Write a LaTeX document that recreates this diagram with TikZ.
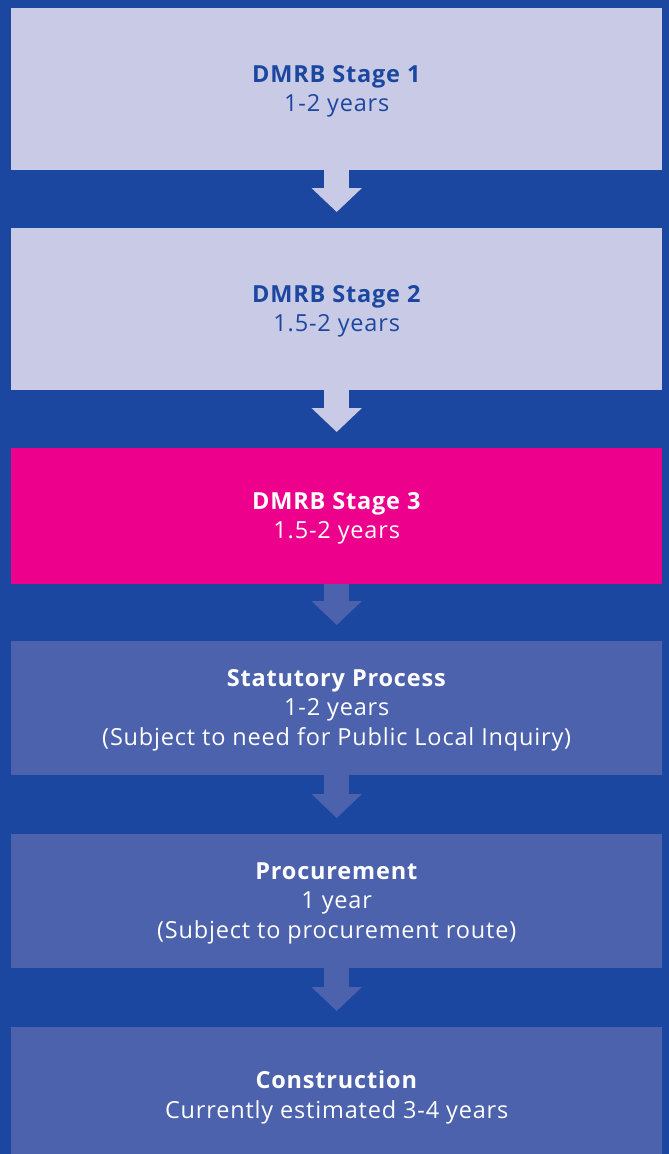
\documentclass[tikz,border=0pt]{standalone}
\usepackage{fontspec}
\setmainfont{Open Sans}[LetterSpace=3.5]
\usetikzlibrary{arrows.meta}
\definecolor{bgblue}{HTML}{1C47A0}
\definecolor{lightbox}{HTML}{C8CAE6}
\definecolor{pinkbox}{HTML}{EC008C}
\definecolor{midbox}{HTML}{4C62AD}
\tikzset{
  stagebox/.style={anchor=north west, minimum width=651pt, inner sep=0pt},
  lightstage/.style={stagebox, fill=lightbox},
  pinkstage/.style={stagebox, fill=pinkbox},
  midstage/.style={stagebox, fill=midbox},
  stagetext/.style={align=center, inner sep=0pt, yshift=-2pt,
    font=\fontsize{23.5pt}{29.5pt}\selectfont},
  flowarrow/.style={line width=25pt, -{Triangle[length=24pt,width=49pt]}, shorten >=16pt},
}
\begin{document}
\begin{tikzpicture}[x=1pt,y=1pt]
\fill[bgblue] (0,0) rectangle (669,-1154);
\useasboundingbox (0,0) rectangle (669,-1154);
\node[lightstage, minimum height=162pt] (s1) at (11,-8) {};
\node[lightstage, minimum height=162pt] (s2) at (11,-228) {};
\node[pinkstage, minimum height=136pt] (s3) at (11,-448) {};
\node[midstage, minimum height=134pt] (s4) at (11,-641) {};
\node[midstage, minimum height=134pt] (s5) at (11,-834) {};
\node[midstage, minimum height=136pt] (s6) at (11,-1027) {};
\node[stagetext, text=bgblue] (t1) at (s1.center) {\textbf{DMRB Stage 1}\\1-2 years};
\node[stagetext, text=bgblue] (t2) at (s2.center) {\textbf{DMRB Stage 2}\\1.5-2 years};
\node[stagetext, text=white] (t3) at (s3.center) {\textbf{DMRB Stage 3}\\1.5-2 years};
\node[stagetext, text=white] (t4) at (s4.center) {\textbf{Statutory Process}\\1-2 years\\(Subject to need for Public Local Inquiry)};
\node[stagetext, text=white] (t5) at (s5.center) {\textbf{Procurement}\\1 year\\(Subject to procurement route)};
\node[stagetext, text=white] (t6) at (s6.center) {\textbf{Construction}\\Currently estimated 3-4 years};
\draw[flowarrow, lightbox] (s1.south) -- (s2.north);
\draw[flowarrow, lightbox] (s2.south) -- (s3.north);
\draw[flowarrow, midbox] (s3.south) -- (s4.north);
\draw[flowarrow, midbox] (s4.south) -- (s5.north);
\draw[flowarrow, midbox] (s5.south) -- (s6.north);
\end{tikzpicture}
\end{document}
